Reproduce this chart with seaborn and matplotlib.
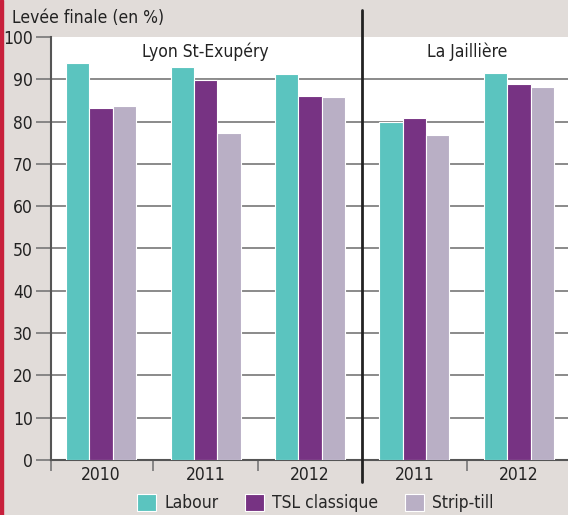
import matplotlib
matplotlib.use("Agg")
import matplotlib.pyplot as plt
import seaborn as sns
import pandas as pd
from matplotlib import font_manager

# ---- data ----
sites = ["Lyon St-Exupéry", "Lyon St-Exupéry", "Lyon St-Exupéry", "La Jaillière", "La Jaillière"]
years = ["2010", "2011", "2012", "2011", "2012"]
practices = ["Labour", "TSL classique", "Strip-till"]
labour = [93.9, 93.0, 91.3, 80.0, 91.4]
tsl = [83.3, 89.9, 86.0, 80.8, 89.0]
strip = [83.8, 77.2, 85.9, 76.8, 88.1]
colors = ["#5bc4bf", "#773383", "#b9afc5"]
ylabel = "Levée finale (en %)"

sns.set_theme(style="white")
fonts = font_manager.fontManager.ttflist
names = {f.name for f in fonts}
condensed = [f for f in fonts if "Condensed" in f.fname and "DejaVuSans" in f.fname
             and "Bold" not in f.fname and "Oblique" not in f.fname]
fp = None
if "Liberation Sans Narrow" in names:
    plt.rcParams["font.family"] = ["Liberation Sans Narrow", "DejaVu Sans"]
elif condensed:
    fp = condensed[0].fname
    plt.rcParams["font.family"] = ["DejaVu Sans"]
    plt.rcParams["font.stretch"] = "condensed"
else:
    plt.rcParams["font.family"] = ["Roboto", "DejaVu Sans"]
FS = 12.5

def fprop(size=FS):
    if fp:
        return font_manager.FontProperties(fname=fp, size=size)
    return font_manager.FontProperties(size=size)

rows = []
for i, (s, y) in enumerate(zip(sites, years)):
    for p, vals in zip(practices, [labour, tsl, strip]):
        rows.append({"cat": f"{s}|{y}", "practice": p, "value": vals[i]})
df = pd.DataFrame(rows)
order = [f"{s}|{y}" for s, y in zip(sites, years)]

bg = "#e1dcd9"
fig = plt.figure(figsize=(5.68, 5.15), dpi=100, facecolor=bg)
ax = fig.add_axes([51 / 568, 1 - 460 / 515, 517 / 568, (460 - 37) / 515])
ax.set_facecolor("white")

sns.barplot(data=df, x="cat", y="value", hue="practice", order=order,
            hue_order=practices, palette=colors, width=0.67, ax=ax,
            edgecolor="white", linewidth=0.8, saturation=1, legend=True,
            errorbar=None, zorder=3)

ax.set_ylim(0, 100)
ax.set_xlim(-0.48, 4.47)
ax.set_yticks(range(0, 101, 10))
ax.yaxis.grid(True, color="#777777", linewidth=1.2, zorder=0)
ax.get_ygridlines()[-1].set_visible(False)
ax.set_axisbelow(True)
ax.tick_params(axis="y", direction="out", length=11, width=1.2, color="#777777",
               labelcolor="#222222", pad=2, left=True)
ax.set_xticks(range(len(years)))
ax.set_xticklabels(years)
ax.tick_params(axis="x", which="major", length=0, labelcolor="#222222", pad=4.5)
ax.set_xticks([-0.48, 0.5, 1.5, 3.5], minor=True)
ax.tick_params(axis="x", which="minor", direction="out", length=8, width=1.2, color="#777777", bottom=True)
for lab in ax.get_xticklabels() + ax.get_yticklabels():
    lab.set_fontproperties(fprop())
ax.set_xlabel("")
ax.set_ylabel("")
for sp in ["top", "right"]:
    ax.spines[sp].set_visible(False)
for sp in ["left", "bottom"]:
    ax.spines[sp].set_color("#555555")
    ax.spines[sp].set_linewidth(1.5)

# separator between sites
ax.axvline(2.5, ymin=-0.052, ymax=1.064, clip_on=False, color="#222222", lw=2, zorder=5)

# site labels
ax.text(1.0, 96.5, sites[0], ha="center", va="center", fontproperties=fprop(), color="#222222")
ax.text(3.5, 96.5, sites[3], ha="center", va="center", fontproperties=fprop(), color="#222222")

fig.text(12 / 568, 1 - 18 / 515, ylabel, ha="left", va="center", fontproperties=fprop(), color="#222222")

# legend
handles, labels = ax.get_legend_handles_labels()
ax.get_legend().remove()
fig.legend(handles, labels, loc="center", bbox_to_anchor=(0.555, 1 - 503 / 515), ncol=3,
           frameon=False, prop=fprop(), handlelength=1.1, handleheight=1.1,
           columnspacing=1.5, handletextpad=0.5, borderaxespad=0)

# left red stripe
fig.patches.append(plt.Rectangle((0, 0), 3 / 568, 1, transform=fig.transFigure,
                                 color="#c8203c", zorder=10))

fig.savefig("out.png", dpi=100, facecolor=bg)
